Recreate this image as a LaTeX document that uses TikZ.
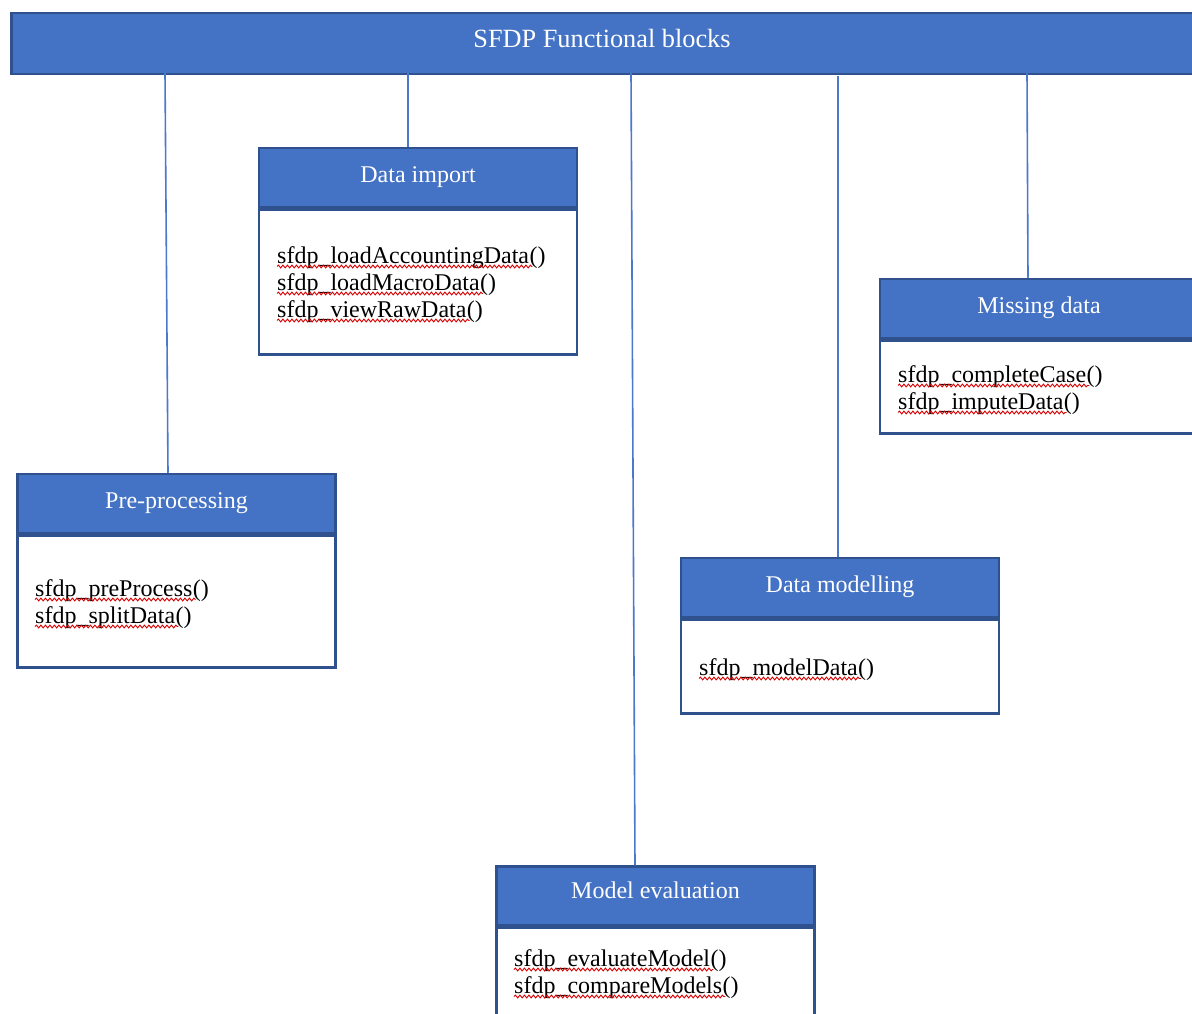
\documentclass[tikz,border=0pt]{standalone}
\usepackage{fontspec}
\setmainfont{Liberation Serif}
\usetikzlibrary{decorations.pathmorphing}
\definecolor{blockfill}{HTML}{4472C4}
\definecolor{blockline}{HTML}{2F528F}
\definecolor{linkblue}{HTML}{4A78CC}
\tikzset{
  titlebar/.style={draw=blockline, line width=2.5pt, fill=blockfill, text=white,
    minimum width=1200pt, minimum height=61pt, inner sep=0pt,
    font=\fontsize{26.3}{30}\selectfont},
  hdr/.style={draw=blockline, line width=2.5pt, fill=blockfill, text=white,
    minimum width=318pt, minimum height=59pt, inner sep=0pt,
    font=\fontsize{24}{28}\selectfont},
  bdy/.style={draw=blockline, line width=2.5pt, fill=white,
    minimum width=318pt, inner sep=0pt, anchor=north},
  fn/.style={inner sep=0pt, anchor=base west, font=\fontsize{24}{28}\selectfont},
  spell/.style={red!85!black, line width=0.9pt, decorate,
    decoration={snake, amplitude=1.4pt, segment length=4.5pt}},
  link/.style={draw=linkblue, line width=1.6pt}
}
% header caption, lifted slightly above the vertical centre
\newcommand\hdrcap[2][6pt]{\raisebox{#1}{#2}}
% one function entry: node name, baseline position, function name
\newcommand\fnline[3]{%
  \node[fn] (#1) at (#2) {#3};
  \node[fn] (#1p) at (#1.base east) {()};
  \draw[spell] ([yshift=-3.5pt]#1.base west) -- ([yshift=-3.5pt,xshift=3pt]#1.base east);
}
\begin{document}
\begin{tikzpicture}[x=1pt, y=-1pt]
\useasboundingbox (0,0) rectangle (1192,1014);
\clip (0,0) rectangle (1192,1014);

% title bar
\node[titlebar, anchor=north west] (bar) at (10,12) {};
\node[font=\fontsize{26.3}{30}\selectfont, text=white] (title) at (602,39) {SFDP Functional blocks};

% Data import
\node[hdr] (imp) at (418,177.5) {\hdrcap{Data import}};
\node[bdy, minimum height=145pt] (impb) at (imp.south) {};
\fnline{i1}{277,263}{sfdp\_loadAccountingData}
\fnline{i2}{277,290}{sfdp\_loadMacroData}
\fnline{i3}{277,317}{sfdp\_viewRawData}

% Missing data
\node[hdr] (miss) at (1039,308.5) {\hdrcap{Missing data}};
\node[bdy, minimum height=93pt] (missb) at (miss.south) {};
\fnline{m1}{898,382}{sfdp\_completeCase}
\fnline{m2}{898,409}{sfdp\_imputeData}

% Pre-processing
\node[hdr] (pre) at (176.5,503.5) {\hdrcap[4pt]{Pre-processing}};
\node[bdy, minimum height=132pt] (preb) at (pre.south) {};
\fnline{p1}{35,596}{sfdp\_preProcess}
\fnline{p2}{35,623}{sfdp\_splitData}

% Data modelling
\node[hdr] (mod) at (840,587.5) {\hdrcap{Data modelling}};
\node[bdy, minimum height=94pt] (modb) at (mod.south) {};
\fnline{d1}{699,675}{sfdp\_modelData}

% Model evaluation
\node[hdr] (ev) at (655.5,896) {\hdrcap[12pt]{Model evaluation}};
\node[bdy, minimum height=120pt] (evb) at (ev.south) {};
\fnline{e1}{514,966}{sfdp\_evaluateModel}
\fnline{e2}{514,993}{sfdp\_compareModels}

% links from the title bar to each block
\coordinate (t1) at (165,73);
\coordinate (t2) at (408,73);
\coordinate (t3) at (631,73);
\coordinate (t4) at (838,76);
\coordinate (t5) at (1027,73);
\draw[link] (t1) -- ([xshift=-8.5pt]pre.north);
\draw[link] (t2) -- ([xshift=-10pt]imp.north);
\draw[link] (t3) -- ([xshift=-20.5pt]ev.north);
\draw[link] (t4) -- ([xshift=-2pt]mod.north);
\draw[link] (t5) -- ([xshift=-11pt]miss.north);
\end{tikzpicture}
\end{document}
